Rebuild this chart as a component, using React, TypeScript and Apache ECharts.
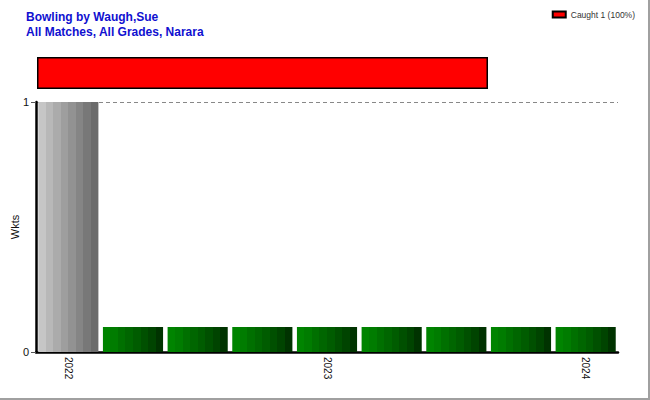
import React, { useEffect, useRef } from "react";
import * as echarts from "echarts";

const titleLines = ["Bowling by Waugh,Sue", "All Matches, All Grades, Narara"];
const matchKeys = ["m1", "m2", "m3", "m4", "m5", "m6", "m7", "m8", "m9"];
const tickLabels = ["2022", "", "", "", "2023", "", "", "", "2024"];
const wickets = [1, 0.1, 0.1, 0.1, 0.1, 0.1, 0.1, 0.1, 0.1];
const barKind = ["wkt", "none", "none", "none", "none", "none", "none", "none", "none"];
const dismissalNames = ["Caught 1 (100%)"];
const dismissalValues = [1];

const grayStripes = ["#c6c6c6", "#b8b8b8", "#ababab", "#9e9e9e", "#929292", "#858585", "#787878", "#6b6b6b"];
const greenStripes = ["#008400", "#007c00", "#007000", "#006600", "#005c00", "#005000", "#004400", "#003300"];

function stripes(colors: string[]) {
  const stops: { offset: number; color: string }[] = [];
  const n = colors.length;
  colors.forEach((c, i) => {
    stops.push({ offset: i / n, color: c });
    stops.push({ offset: (i + 1) / n - 0.0001, color: c });
  });
  return new echarts.graphic.LinearGradient(0, 0, 1, 0, stops);
}

export default function App() {
  const ref = useRef<HTMLDivElement>(null);
  useEffect(() => {
    document.body.style.margin = "0";
    const chart = echarts.init(ref.current!, null, { renderer: "svg" });
    const gray = stripes(grayStripes);
    const green = stripes(greenStripes);
    chart.setOption({
      animation: false,
      textStyle: { fontFamily: "Liberation Sans, Arial, sans-serif" },
      title: {
        text: titleLines.join("\n"),
        left: 21,
        top: 4,
        textStyle: { fontSize: 12, fontWeight: "bold", color: "#1010d0", lineHeight: 15 },
      },
      legend: {
        right: 8,
        top: 5,
        icon: "rect",
        itemWidth: 13,
        itemHeight: 6,
        itemGap: 4,
        textStyle: { fontSize: 8.5, color: "#333" },
        data: dismissalNames,
      },
      grid: [
        { left: 36, right: 30, top: 102, bottom: 46, outerBoundsMode: "none", containLabel: false },
        { left: 37, width: 451, top: 57, height: 32, outerBoundsMode: "none", containLabel: false },
      ],
      xAxis: [
        {
          type: "category",
          gridIndex: 0,
          data: matchKeys,
          axisLine: { lineStyle: { color: "#000", width: 2.5 } },
          axisTick: { alignWithLabel: true, interval: 0, length: 4, lineStyle: { color: "#555" } },
          axisLabel: {
            interval: 0,
            rotate: -90,
            fontSize: 10,
            color: "#111",
            margin: 5,
            formatter: (_v: string, i: number) => tickLabels[i],
          },
        },
        { type: "value", gridIndex: 1, min: 0, max: 1, show: false },
      ],
      yAxis: [
        {
          type: "value",
          gridIndex: 0,
          min: 0,
          max: 1,
          interval: 1,
          name: "Wkts",
          nameLocation: "middle",
          nameGap: 16,
          nameMoveOverlap: false,
          nameTextStyle: { fontSize: 11, color: "#111" },
          axisLine: { show: true, lineStyle: { color: "#000", width: 2.5 } },
          axisTick: { show: true, length: 5, lineStyle: { color: "#555" } },
          axisLabel: { fontSize: 11, color: "#111", margin: 7 },
          splitLine: { show: true, lineStyle: { color: "#888", type: [4, 3], width: 1 } },
        },
        { type: "category", gridIndex: 1, data: ["d"], show: false },
      ],
      series: [
        {
          type: "bar",
          xAxisIndex: 0,
          yAxisIndex: 0,
          barWidth: "93%",
          data: wickets.map((v, i) => ({
            value: v,
            itemStyle: { color: barKind[i] === "wkt" ? gray : green },
          })),
        },
        ...dismissalNames.map((name, i) => ({
          type: "bar",
          name,
          xAxisIndex: 1,
          yAxisIndex: 1,
          barWidth: 32,
          data: [dismissalValues[i]],
          itemStyle: { color: "#ff0000", borderColor: "#000", borderWidth: 1.5 },
        })),
      ],
    });
    return () => chart.dispose();
  }, []);
  return (
    <div
      style={{
        width: 650,
        height: 400,
        boxSizing: "border-box",
        borderRight: "2px solid #a0a0a0",
        borderBottom: "2px solid #a0a0a0",
        background: "#fff",
      }}
    >
      <div ref={ref} style={{ width: 648, height: 398 }} />
    </div>
  );
}
